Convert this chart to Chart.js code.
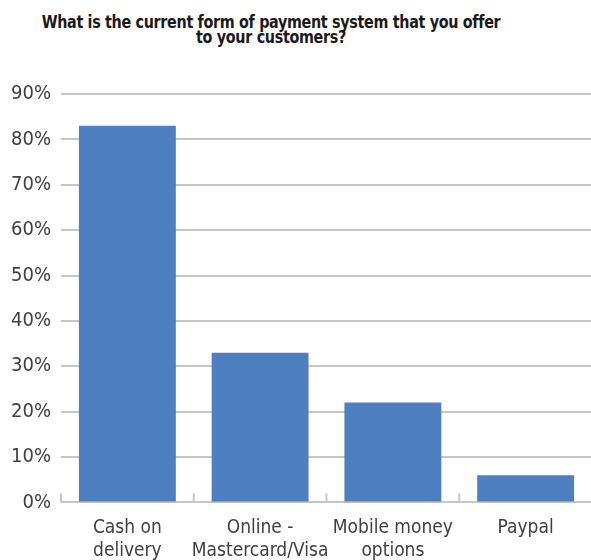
<!DOCTYPE html>
<html>
<head>
<meta charset="utf-8">
<script src="https://cdn.jsdelivr.net/npm/chart.js@4/dist/chart.umd.min.js"></script>
<style>
  html, body { margin: 0; padding: 0; background: #fff; overflow: hidden; }
  #wrap { position: relative; width: 591px; height: 560px; }
  #title {
    position: absolute; left: 0; top: 15px; width: 542px;
    text-align: center; color: #1a1a1a; white-space: nowrap;
    font: bold 17.5px "DejaVu Sans Condensed", "DejaVu Sans", sans-serif;
    font-stretch: condensed; letter-spacing: -0.35px;
    line-height: 15px;
    transform: scaleX(0.91);
  }
  #chart { position: absolute; left: 0; top: 0; }
</style>
</head>
<body>
<div id="wrap">
  <div id="title">What is the current form of payment system that you offer<br>to your customers?</div>
  <canvas id="chart" width="592" height="568"></canvas>
</div>
<script>
const categories = [
  ["Cash on", "delivery"],
  ["Online -", "Mastercard/Visa"],
  ["Mobile money", "options"],
  ["Paypal"],
];
const shares = [83, 33, 22, 6];
const yTicks = [0, 10, 20, 30, 40, 50, 60, 70, 80, 90];

const fontFamily = "'DejaVu Sans Condensed', 'DejaVu Sans', sans-serif";

// small upward tick marks on the x axis between categories
const boundaryTicks = {
  id: "boundaryTicks",
  afterDatasetsDraw(chart) {
    const x = chart.scales.x;
    const area = chart.chartArea;
    const ctx = chart.ctx;
    ctx.save();
    ctx.strokeStyle = "#c6c6c8";
    ctx.lineWidth = 2;
    for (let i = 0; i <= categories.length; i++) {
      const px = (x.getPixelForValue(i - 1) + x.getPixelForValue(i)) / 2;
      ctx.beginPath();
      ctx.moveTo(px, area.bottom);
      ctx.lineTo(px, area.bottom - 9);
      ctx.stroke();
    }
    ctx.restore();
  },
};

new Chart(document.getElementById("chart"), {
  type: "bar",
  data: {
    labels: categories,
    datasets: [
      {
        label: "Share",
        data: shares,
        backgroundColor: "#4e7fc0",
        barPercentage: 0.73,
        categoryPercentage: 1,
      },
    ],
  },
  options: {
    responsive: false,
    animation: false,
    layout: { padding: { top: 94, left: 1, right: 0, bottom: 0 } },
    plugins: {
      legend: { display: false },
      title: { display: false },
      tooltip: { enabled: false },
    },
    scales: {
      x: {
        grid: { display: false },
        border: { color: "#c6c6c8", width: 2 },
        ticks: {
          color: "#404040",
          font: { family: fontFamily, size: 19 },
          padding: 6,
          maxRotation: 0,
          autoSkip: false,
        },
      },
      y: {
        min: 0,
        max: 90,
        afterBuildTicks: (axis) => {
          axis.ticks = yTicks.map((v) => ({ value: v }));
        },
        grid: { color: "#c6c6c8", lineWidth: 2, drawTicks: false },
        border: { display: false },
        ticks: {
          color: "#404040",
          font: { family: fontFamily, size: 20 },
          padding: 10,
          callback: (v) => v + "%",
        },
      },
    },
  },
  plugins: [boundaryTicks],
});
</script>
</body>
</html>
